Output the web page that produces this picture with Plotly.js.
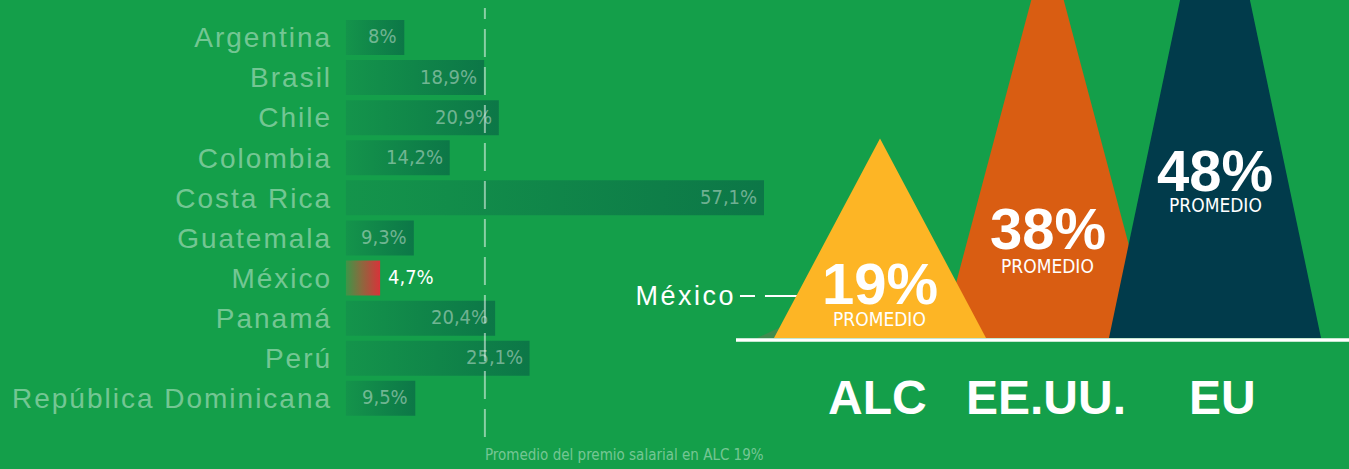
<!DOCTYPE html>
<html>
<head>
<meta charset="utf-8">
<script src="https://cdn.plot.ly/plotly-3.0.1.min.js"></script>
<style>
  html, body { margin: 0; padding: 0; background: #149f4a; }
  #chart { width: 1349px; height: 469px; }
  .yaxislayer-above text { letter-spacing: 2px; }
  .annotation[data-index="0"] text { letter-spacing: 2.5px; }
</style>
</head>
<body>
<div id="chart"></div>
<script>
// ---- data ----
const countries = ['Argentina', 'Brasil', 'Chile', 'Colombia', 'Costa Rica', 'Guatemala', 'México', 'Panamá', 'Perú', 'República Dominicana'];
const premium = [8, 18.9, 20.9, 14.2, 57.1, 9.3, 4.7, 20.4, 25.1, 9.5];
const highlight = 'México';
const avgALC = 19;
const regions = ['ALC', 'EE.UU.', 'EU'];
const regionAvg = [19, 38, 48];
const mexicoValue = 4.7;
const avgNote = 'Promedio del premio salarial en ALC 19%';

// ---- styles ----
const BG = '#149f4a';
const FADE = 'rgba(255,255,255,0.42)';
const NARROW = '"Liberation Sans Narrow", "DejaVu Sans Condensed", "Arial Narrow", sans-serif';
const SANS = '"Liberation Sans", Arial, sans-serif';
const regionColors = ['#fdb525', '#d95d12', '#013b4b'];
const mexTriColor = '#3f8b4e';
const barHalf = 0.437;
const triHalf = 0.633;

const fmt = v => String(v).replace('.', ',') + '%';

const traces = [];

// bars (gradient-filled polygons drawn on the x/y axes)
premium.forEach((v, i) => {
  const isHi = countries[i] === highlight;
  traces.push({
    type: 'scatter', mode: 'lines', xaxis: 'x', yaxis: 'y',
    x: [0, v, v, 0, 0],
    y: [i - barHalf, i - barHalf, i + barHalf, i + barHalf, i - barHalf],
    fill: 'toself',
    line: { width: 0 },
    fillgradient: {
      type: 'horizontal',
      colorscale: isHi ? [[0, '#3c9648'], [0.45, '#8a6a3e'], [1, '#d8333a']]
                       : [[0, '#14944b'], [1, '#0c7747']]
    },
    hoverinfo: 'skip', showlegend: false
  });
});

// triangles (México sliver first, then EE.UU., EU, ALC on top)
function tri(c, v, color) {
  return {
    type: 'scatter', mode: 'lines', xaxis: 'x2', yaxis: 'y2',
    x: [c - triHalf, c, c + triHalf, c - triHalf],
    y: [0, v, 0, 0],
    fill: 'toself', fillcolor: color, line: { width: 0 },
    hoverinfo: 'skip', showlegend: false
  };
}
traces.push(tri(-0.101, mexicoValue, mexTriColor));
[1, 2, 0].forEach(k => traces.push(tri(k, regionAvg[k], regionColors[k])));

// ---- annotations ----
const py = p => (469 - p) / 469;
const annotations = [];
annotations.push({
  xref: 'paper', yref: 'paper', x: 731 / 1349, y: py(296), xanchor: 'right', yanchor: 'middle',
  text: 'México', showarrow: false,
  font: { family: SANS, size: 27, color: '#ffffff' }
});
// bar value labels
premium.forEach((v, i) => {
  const isHi = countries[i] === highlight;
  annotations.push({
    xref: 'x', yref: 'y', x: v, y: i, xanchor: isHi ? 'left' : 'right', yanchor: 'middle',
    xshift: isHi ? 6 : -5, yshift: 1,
    text: fmt(v), showarrow: false,
    font: { family: NARROW, size: 20, color: isHi ? '#ffffff' : FADE }
  });
});
const pctY = [283, 228, 170];
const promY = [319, 266, 205];
const labShift = [-2, -2, 7];
regions.forEach((r, k) => {
  annotations.push({
    xref: 'x2', yref: 'paper', x: k, y: py(pctY[k]), xanchor: 'center', yanchor: 'middle',
    text: '<b>' + regionAvg[k] + '%</b>', showarrow: false,
    font: { family: SANS, size: 58, color: '#ffffff' }
  });
  annotations.push({
    xref: 'x2', yref: 'paper', x: k, y: py(promY[k]), xanchor: 'center', yanchor: 'middle',
    text: 'PROMEDIO', showarrow: false,
    font: { family: NARROW, size: 19, color: '#ffffff' }
  });
  annotations.push({
    xref: 'x2', yref: 'paper', x: k, y: py(397), xanchor: 'center', yanchor: 'middle', xshift: labShift[k],
    text: '<b>' + r + '</b>', showarrow: false,
    font: { family: SANS, size: 48, color: '#ffffff' }
  });
});
annotations.push({
  xref: 'x', yref: 'paper', x: avgALC, y: py(455), xanchor: 'left', yanchor: 'middle',
  text: avgNote, showarrow: false, xshift: -2,
  font: { family: NARROW, size: 15, color: FADE }
});

// ---- shapes ----
const shapes = [
  { type: 'line', xref: 'x', yref: 'paper', x0: avgALC, x1: avgALC, y0: py(437), y1: py(8),
    line: { color: 'rgba(255,255,255,0.5)', width: 2, dash: '28px,10px' }, layer: 'above' },
  { type: 'line', xref: 'paper', yref: 'paper', x0: 736 / 1349, x1: 1, y0: py(340), y1: py(340),
    line: { color: '#ffffff', width: 3.5 }, layer: 'above' },
  { type: 'line', xref: 'x2', yref: 'paper', x0: -0.836, x1: -0.101, y0: py(296), y1: py(296),
    line: { color: '#ffffff', width: 2, dash: '15px,10px,80px,10px' }, layer: 'below' }
];

const tickText = countries.map(c => c === highlight ? '<span style="color:#ffffff">' + c + '</span>' : c);

const layout = {
  width: 1349, height: 469,
  margin: { l: 0, r: 0, t: 0, b: 0, pad: 0 },
  paper_bgcolor: BG, plot_bgcolor: 'rgba(0,0,0,0)',
  showlegend: false,
  xaxis: { domain: [345.7 / 1349, (345.7 + 60 * 7.326) / 1349], range: [0, 60], visible: false, fixedrange: true },
  yaxis: {
    domain: [py(418.4), py(17.4)], range: [9.5, -0.5],
    tickmode: 'array', tickvals: countries.map((_, i) => i), ticktext: tickText,
    ticks: 'outside', ticklen: 7, tickcolor: 'rgba(0,0,0,0)',
    showgrid: false, zeroline: false, showline: false,
    tickfont: { family: SANS, size: 28, color: FADE },
    fixedrange: true
  },
  xaxis2: { domain: [736 / 1349, 1], range: [-(144 / 167.5), 469 / 167.5], anchor: 'y2', visible: false, fixedrange: true },
  yaxis2: { domain: [py(338), 1], range: [0, 338 / 10.5], anchor: 'x2', visible: false, fixedrange: true },
  shapes: shapes,
  annotations: annotations
};

Plotly.newPlot('chart', traces, layout, { displayModeBar: false, staticPlot: true });
</script>
</body>
</html>
